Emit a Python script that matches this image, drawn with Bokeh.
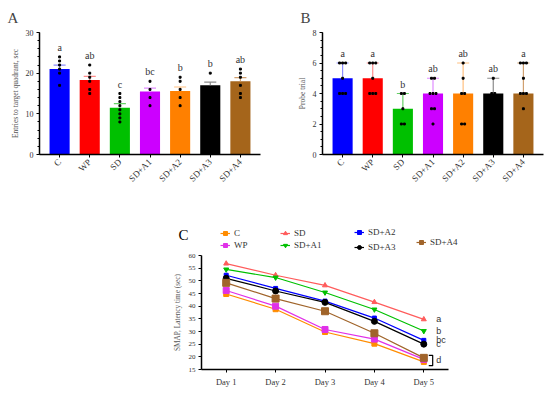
import math
from bokeh.plotting import figure
from bokeh.models import Range1d, FixedTicker, Legend, LegendItem
from bokeh.layouts import column, row
from bokeh.embed import file_html
from bokeh.resources import INLINE

# ---------------- data ----------------
groups = ["C", "WP", "SD", "SD+A1", "SD+A2", "SD+A3", "SD+A4"]
bar_colors = ["#0000FF", "#FF0000", "#00C000", "#CC00FF", "#FF8000", "#000000", "#A5651B"]
err_colors = ["#8C8CFF", "#FF8C8C", "#66D066", "#E08CFF", "#FFC080", "#8C8C8C", "#D0A070"]

a_mean = [21.0, 18.3, 11.5, 15.5, 15.6, 17.0, 18.0]
a_upper = [22.0, 19.2, 12.5, 16.3, 16.6, 17.8, 18.9]
a_letters = ["a", "ab", "c", "bc", "b", "b", "ab"]
a_points = [
    [24, 23, 22, 21, 20, 17],
    [22, 20, 19, 18, 16, 15],
    [15, 14, 13, 12, 11, 10, 9, 8],
    [18, 16, 14, 12],
    [19, 18, 16, 14, 12],
    [20, 15, 13],
    [21, 20, 19, 17, 15, 14],
]
a_yticks = [0, 10, 20, 30]

b_mean = [5, 5, 3, 4, 4, 4, 4]
b_upper = [6, 6, 4, 5, 6, 5, 6]
b_letters = ["a", "a", "b", "ab", "ab", "ab", "a"]
b_points = [
    [6, 6, 6, 5, 4, 4, 4],
    [6, 6, 6, 5, 4, 4, 4],
    [4, 4, 3, 2, 2],
    [5, 5, 4, 4, 4, 3, 3, 2],
    [6, 5, 4, 4, 2, 2],
    [5, 4, 4, 3, 2],
    [6, 6, 6, 5, 4, 4, 4, 3],
]
b_yticks = [0, 2, 4, 6, 8]

days = ["Day 1", "Day 2", "Day 3", "Day 4", "Day 5"]
c_series = ["C", "WP", "SD", "SD+A1", "SD+A2", "SD+A3", "SD+A4"]
c_values = {
    "C":     [44.8, 38.8, 29.8, 25.2, 18.0],
    "WP":    [46.2, 40.0, 30.8, 27.0, 19.0],
    "SD":    [56.8, 52.2, 48.2, 41.6, 34.8],
    "SD+A1": [54.5, 51.3, 45.4, 38.7, 30.2],
    "SD+A2": [52.2, 47.0, 42.0, 35.3, 26.5],
    "SD+A3": [51.0, 46.0, 41.5, 34.0, 25.0],
    "SD+A4": [49.2, 43.0, 38.0, 29.3, 19.6],
}
c_colors = {"C": "#FF8C00", "WP": "#E030E8", "SD": "#FF5C5C", "SD+A1": "#00C000",
            "SD+A2": "#0000FF", "SD+A3": "#000000", "SD+A4": "#A0642A"}
c_markers = {"C": "square", "WP": "square", "SD": "triangle", "SD+A1": "inverted_triangle",
             "SD+A2": "square", "SD+A3": "circle", "SD+A4": "square"}
c_sizes = {"C": 5, "WP": 6, "SD": 5, "SD+A1": 5, "SD+A2": 4, "SD+A3": 6, "SD+A4": 7}
c_letters = ["a", "b", "bc", "c", "d"]
c_letter_groups = [["SD"], ["SD+A1"], ["SD+A2"], ["SD+A3"], ["SD+A4", "WP", "C"]]
legend_columns = [["C", "WP"], ["SD", "SD+A1"], ["SD+A2", "SD+A3"], ["SD+A4"]]

SERIF = "Liberation Serif"
SANS = "Liberation Sans"
TXT = "#333333"


def style_axes(p, fs="8px"):
    for ax in (p.xaxis[0], p.yaxis[0]):
        ax.axis_line_color = "black"
        ax.axis_line_width = 1.5
        ax.major_tick_line_color = "black"
        ax.minor_tick_line_color = "black"
        ax.major_tick_in = 0
        ax.major_tick_out = 3
        ax.minor_tick_in = 0
        ax.minor_tick_out = 2
        ax.major_label_text_font = SERIF
        ax.major_label_text_font_size = fs
        ax.major_label_text_color = TXT
        ax.axis_label_text_font = SERIF
        ax.axis_label_text_font_style = "normal"
        ax.axis_label_text_color = "#555555"
        ax.major_label_standoff = 3
    p.xgrid.visible = False
    p.ygrid.visible = False
    p.outline_line_color = None


def bar_panel(means, uppers, points, letters, yticks, minor_step, ylabel, panel, left, right, toff):
    ymax = yticks[-1]
    p = figure(frame_width=221, frame_height=122, min_border_left=left, min_border_right=right,
               min_border_top=32, min_border_bottom=44,
               x_range=Range1d(0.333, 7.667), y_range=Range1d(0, ymax),
               output_backend="svg", toolbar_location=None)
    p.title.text = panel
    p.title.text_font = SERIF
    p.title.text_font_size = "15px"
    p.title.text_font_style = "normal"
    p.title.align = "left"
    p.title.offset = toff
    p.title.standoff = 13
    xs = list(range(1, len(groups) + 1))
    p.vbar(x=xs, top=means, width=0.667, color=bar_colors, line_width=0)
    p.segment(x0=xs, y0=means, x1=xs, y1=uppers, line_color=err_colors, line_width=1.2)
    p.segment(x0=[x - 0.2 for x in xs], y0=uppers, x1=[x + 0.2 for x in xs], y1=uppers,
              line_color=err_colors, line_width=1.2)
    px, py = [], []
    for x, vals in zip(xs, points):
        counts = {}
        for v in vals:
            counts[v] = counts.get(v, 0) + 1
        seen = {}
        for v in vals:
            n = counts[v]
            k = seen.get(v, 0)
            seen[v] = k + 1
            px.append(x + (k - (n - 1) / 2) * 0.1)
            py.append(v)
    p.scatter(x=px, y=py, size=1.9, color="black", marker="square")
    top = [max(max(pt), u) for pt, u in zip(points, uppers)]
    p.text(x=xs, y=top, text=letters, text_align="center", text_baseline="bottom",
           text_font={"value": SERIF}, text_font_size="10px", text_color=TXT, y_offset=-4)
    style_axes(p)
    p.xaxis.major_label_text_font_size = "9px"
    p.xaxis.ticker = FixedTicker(ticks=xs)
    p.xaxis.major_label_overrides = {x: g for x, g in zip(xs, groups)}
    p.xaxis.major_label_orientation = math.pi / 4
    minor = []
    v = 0.0
    while v <= ymax + 1e-9:
        minor.append(round(v, 3))
        v += minor_step
    p.yaxis.ticker = FixedTicker(ticks=yticks, minor_ticks=minor)
    p.yaxis.axis_label = ylabel
    p.yaxis.axis_label_text_font_size = "7.5px"
    p.yaxis.axis_label_standoff = 3
    return p


pA = bar_panel(a_mean, a_upper, a_points, a_letters, a_yticks, 2,
               "Entries to target quadrant, sec", "A", 39, 15, -32)
pB = bar_panel(b_mean, b_upper, b_points, b_letters, b_yticks, 0.5,
               "Probe trial", "B", 47, 2, -22)

# shared horizontal geometry for the two parts of panel C
C_LEFT, C_FRAME, C_RIGHT = 201, 267, 60
DAY_PX = 49.4
dx = list(range(1, len(days) + 1))

# ---------------- panel C: legend strip ----------------
pL = figure(frame_width=C_FRAME, frame_height=36, min_border_left=C_LEFT, min_border_right=C_RIGHT,
            min_border_top=18, min_border_bottom=0,
            x_range=Range1d(C_LEFT, C_LEFT + C_FRAME), y_range=Range1d(0, 36),
            x_axis_location=None, output_backend="svg", toolbar_location=None)
pL.xgrid.visible = False
pL.ygrid.visible = False
pL.outline_line_color = None
pL.yaxis.ticker = FixedTicker(ticks=[])
pL.yaxis.axis_line_color = None
pL.yaxis.axis_label = "C"
pL.yaxis.axis_label_orientation = "horizontal"
pL.yaxis.axis_label_text_font = SERIF
pL.yaxis.axis_label_text_font_size = "15px"
pL.yaxis.axis_label_text_font_style = "normal"
pL.yaxis.axis_label_text_color = "black"
pL.yaxis.axis_label_standoff = 13
lrend = {}
for s in c_series:
    # same data, drawn outside this strip's visible range: only used as legend glyphs
    l = pL.line(dx, c_values[s], line_color=c_colors[s], line_width=1.2)
    m = pL.scatter(dx, c_values[s], marker=c_markers[s], size=c_sizes[s], color=c_colors[s])
    lrend[s] = [l, m]
leg_loc = [(19, 2, 2), (79, 2, 2), (153, 0, 5), (215, 5, 1)]
for names, (lx, ly, sp) in zip(legend_columns, leg_loc):
    leg = Legend(items=[LegendItem(label=n, renderers=lrend[n]) for n in names],
                 location=(lx, ly), orientation="vertical", padding=0, margin=0, spacing=sp,
                 glyph_width=10, glyph_height=10, label_height=10, label_standoff=4,
                 label_text_font=SERIF, label_text_font_size="9px", label_text_color=TXT,
                 border_line_color=None, background_fill_alpha=0)
    pL.add_layout(leg)

# ---------------- panel C: chart ----------------
pC = figure(frame_width=C_FRAME, frame_height=114, min_border_left=C_LEFT, min_border_right=C_RIGHT,
            min_border_top=3, min_border_bottom=16,
            x_range=Range1d(0.5, 0.5 + C_FRAME / DAY_PX), y_range=Range1d(15, 60),
            output_backend="svg", toolbar_location=None)
for s in c_series:
    pC.line(dx, c_values[s], line_color=c_colors[s], line_width=1.2)
    pC.scatter(dx, c_values[s], marker=c_markers[s], size=c_sizes[s], color=c_colors[s])
style_axes(pC)
pC.xaxis.bounds = (0.5, 5.5)
pC.yaxis.major_label_text_font_size = "7px"
pC.xaxis.major_label_text_font_size = "8.5px"
pC.xaxis.ticker = FixedTicker(ticks=dx)
pC.xaxis.major_label_overrides = {x: d for x, d in zip(dx, days)}
pC.yaxis.ticker = FixedTicker(ticks=list(range(15, 61, 5)), minor_ticks=[])
pC.yaxis.axis_label = "SMAP, Latency time (sec)"
pC.yaxis.axis_label_text_font_size = "7.3px"
pC.yaxis.axis_label_standoff = 4
pC.xaxis.major_label_standoff = 4

last = len(days)
for lt, grp in zip(c_letters, c_letter_groups):
    vals = [c_values[g][-1] for g in grp]
    yc = sum(vals) / len(vals)
    pC.text(x=[last + 0.25], y=[yc], text=[lt], text_font={"value": SANS}, text_font_size="9px",
            text_baseline="middle", text_color=TXT)
d_vals = [c_values[g][-1] for g in c_letter_groups[-1]]
lo, hi = min(d_vals) - 1.5, max(d_vals) + 1.0
pC.line(x=[last + 0.1, last + 0.18, last + 0.18, last + 0.1], y=[hi, hi, lo, lo],
        line_color="black", line_width=1.2)

layout = column(row(pA, pB), pL, pC)
open("out.html", "w").write(file_html(layout, INLINE))
